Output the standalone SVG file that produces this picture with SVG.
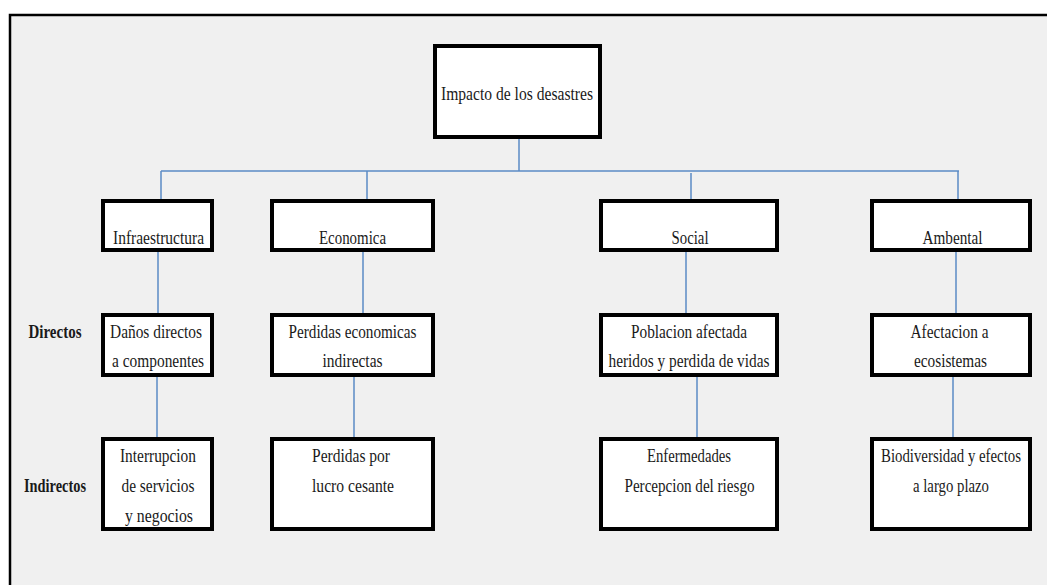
<svg xmlns="http://www.w3.org/2000/svg" width="1047" height="585" viewBox="0 0 1047 585">
  <style>
    .box { fill: #ffffff; stroke: #000000; stroke-width: 4; }
    .lbl { font-family: "Liberation Serif", "Times New Roman", serif; font-size: 19px; fill: #1a1a1a; text-anchor: middle; }
    .side { font-family: "Liberation Serif", "Times New Roman", serif; font-size: 19px; font-weight: bold; fill: #1a1a1a; text-anchor: middle; }
    .link { stroke: #5b8bc6; stroke-width: 1.5; fill: none; }
  </style>

  <!-- page frame -->
  <rect x="0" y="0" width="1047" height="585" fill="#ffffff"/>
  <rect x="10" y="15" width="1060" height="600" fill="#f0f0f0" stroke="#000000" stroke-width="2.5"/>

  <!-- connectors -->
  <g id="connectors" class="link">
    <line x1="519" y1="139" x2="519" y2="171"/>
    <line x1="161" y1="171" x2="959" y2="171"/>
    <line x1="161" y1="171" x2="161" y2="199"/>
    <line x1="367" y1="171" x2="367" y2="199"/>
    <line x1="691" y1="173" x2="691" y2="199"/>
    <line x1="958" y1="171" x2="958" y2="199"/>
    <line x1="158" y1="252" x2="158" y2="313"/>
    <line x1="363" y1="252" x2="363" y2="313"/>
    <line x1="686" y1="252" x2="686" y2="313"/>
    <line x1="956" y1="252" x2="956" y2="313"/>
    <line x1="157" y1="377" x2="157" y2="437"/>
    <line x1="354" y1="377" x2="354" y2="437"/>
    <line x1="697" y1="377" x2="697" y2="437"/>
    <line x1="953" y1="377" x2="953" y2="437"/>
  </g>

  <!-- root -->
  <g id="impacto">
    <rect class="box" x="435" y="46" width="165" height="91"/>
    <text class="lbl" x="517" y="100" textLength="152" lengthAdjust="spacingAndGlyphs">Impacto de los desastres</text>
  </g>

  <!-- categories -->
  <g id="infraestructura">
    <rect class="box" x="103" y="201" width="109" height="49"/>
    <text class="lbl" x="158.5" y="244" textLength="91" lengthAdjust="spacingAndGlyphs">Infraestructura</text>
  </g>
  <g id="economica">
    <rect class="box" x="272" y="201" width="161" height="49"/>
    <text class="lbl" x="352.5" y="244" textLength="67" lengthAdjust="spacingAndGlyphs">Economica</text>
  </g>
  <g id="social">
    <rect class="box" x="601" y="201" width="176" height="49"/>
    <text class="lbl" x="690" y="244" textLength="37" lengthAdjust="spacingAndGlyphs">Social</text>
  </g>
  <g id="ambental">
    <rect class="box" x="872" y="201" width="158" height="49"/>
    <text class="lbl" x="952.5" y="244" textLength="60" lengthAdjust="spacingAndGlyphs">Ambental</text>
  </g>

  <!-- row labels -->
  <g id="label-directos">
    <text class="side" x="55" y="338" textLength="53" lengthAdjust="spacingAndGlyphs">Directos</text>
  </g>
  <g id="label-indirectos">
    <text class="side" x="55" y="492" textLength="62" lengthAdjust="spacingAndGlyphs">Indirectos</text>
  </g>

  <!-- direct effects -->
  <g id="infra-directo">
    <rect class="box" x="103" y="315" width="109" height="60"/>
    <text class="lbl" x="156" y="338" textLength="92" lengthAdjust="spacingAndGlyphs">Daños directos</text>
    <text class="lbl" x="158" y="367" textLength="92" lengthAdjust="spacingAndGlyphs">a componentes</text>
  </g>
  <g id="econ-directo">
    <rect class="box" x="272" y="315" width="161" height="60"/>
    <text class="lbl" x="352.5" y="338" textLength="128" lengthAdjust="spacingAndGlyphs">Perdidas economicas</text>
    <text class="lbl" x="352.5" y="367" textLength="60" lengthAdjust="spacingAndGlyphs">indirectas</text>
  </g>
  <g id="social-directo">
    <rect class="box" x="601" y="315" width="176" height="60"/>
    <text class="lbl" x="689" y="338" textLength="116" lengthAdjust="spacingAndGlyphs">Poblacion afectada</text>
    <text class="lbl" x="689" y="367" textLength="161" lengthAdjust="spacingAndGlyphs">heridos y perdida de vidas</text>
  </g>
  <g id="ambental-directo">
    <rect class="box" x="872" y="315" width="158" height="60"/>
    <text class="lbl" x="949.5" y="338" textLength="78" lengthAdjust="spacingAndGlyphs">Afectacion a</text>
    <text class="lbl" x="950.5" y="367" textLength="73" lengthAdjust="spacingAndGlyphs">ecosistemas</text>
  </g>

  <!-- indirect effects -->
  <g id="infra-indirecto">
    <rect class="box" x="103" y="439" width="109" height="90"/>
    <text class="lbl" x="158" y="462" textLength="76" lengthAdjust="spacingAndGlyphs">Interrupcion</text>
    <text class="lbl" x="158" y="492" textLength="73" lengthAdjust="spacingAndGlyphs">de servicios</text>
    <text class="lbl" x="159" y="522" textLength="68" lengthAdjust="spacingAndGlyphs">y negocios</text>
  </g>
  <g id="econ-indirecto">
    <rect class="box" x="272" y="439" width="161" height="90"/>
    <text class="lbl" x="351" y="462" textLength="78" lengthAdjust="spacingAndGlyphs">Perdidas por</text>
    <text class="lbl" x="353" y="492" textLength="82" lengthAdjust="spacingAndGlyphs">lucro cesante</text>
  </g>
  <g id="social-indirecto">
    <rect class="box" x="601" y="439" width="176" height="90"/>
    <text class="lbl" x="689" y="462" textLength="84" lengthAdjust="spacingAndGlyphs">Enfermedades</text>
    <text class="lbl" x="689.5" y="492" textLength="130" lengthAdjust="spacingAndGlyphs">Percepcion del riesgo</text>
  </g>
  <g id="ambental-indirecto">
    <rect class="box" x="872" y="439" width="158" height="90"/>
    <text class="lbl" x="951" y="462" textLength="140" lengthAdjust="spacingAndGlyphs">Biodiversidad y efectos</text>
    <text class="lbl" x="951" y="492" textLength="76" lengthAdjust="spacingAndGlyphs">a largo plazo</text>
  </g>
</svg>
